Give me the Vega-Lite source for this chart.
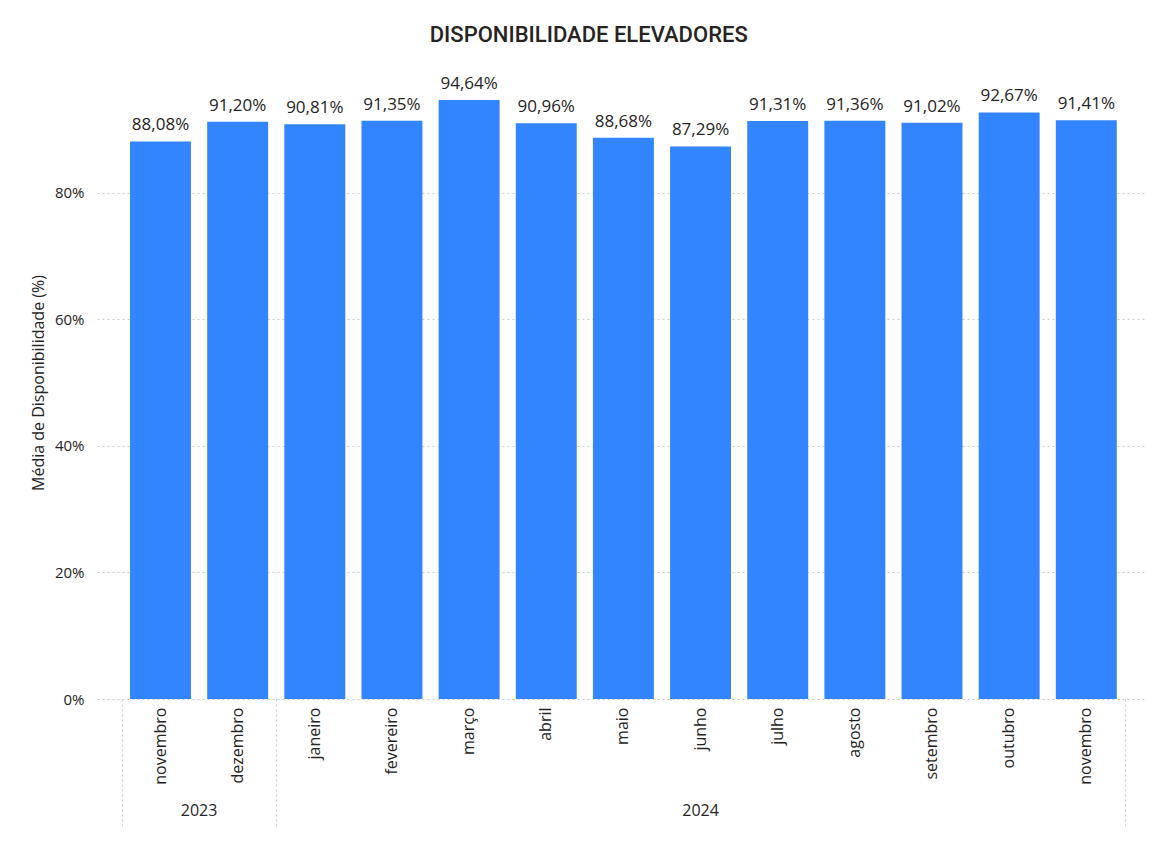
{
  "$schema": "https://vega.github.io/schema/vega-lite/v6.json",
  "width": 1050,
  "height": 633,
  "autosize": {"type": "none"},
  "padding": {"left": 97, "top": 66, "right": 12, "bottom": 151},
  "background": "white",
  "title": {
    "text": "DISPONIBILIDADE ELEVADORES",
    "anchor": "middle",
    "frame": "bounds",
    "font": "Roboto",
    "fontSize": 22,
    "fontWeight": 500,
    "color": "#252423",
    "baseline": "alphabetic",
    "offset": 2
  },
  "config": {
    "locale": {"number": {"decimal": ",", "thousands": ".", "grouping": [3], "currency": ["R$ ", ""]}},
    "view": {"stroke": null},
    "font": "Open Sans"
  },
  "data": {
    "values": [
      {"mes_ano": "novembro 2023", "disponibilidade": 0.8808},
      {"mes_ano": "dezembro 2023", "disponibilidade": 0.9120},
      {"mes_ano": "janeiro 2024", "disponibilidade": 0.9081},
      {"mes_ano": "fevereiro 2024", "disponibilidade": 0.9135},
      {"mes_ano": "março 2024", "disponibilidade": 0.9464},
      {"mes_ano": "abril 2024", "disponibilidade": 0.9096},
      {"mes_ano": "maio 2024", "disponibilidade": 0.8868},
      {"mes_ano": "junho 2024", "disponibilidade": 0.8729},
      {"mes_ano": "julho 2024", "disponibilidade": 0.9131},
      {"mes_ano": "agosto 2024", "disponibilidade": 0.9136},
      {"mes_ano": "setembro 2024", "disponibilidade": 0.9102},
      {"mes_ano": "outubro 2024", "disponibilidade": 0.9267},
      {"mes_ano": "novembro 2024", "disponibilidade": 0.9141}
    ]
  },
  "encoding": {
    "y": {
      "field": "disponibilidade",
      "type": "quantitative",
      "scale": {"domain": [0, 1], "nice": false},
      "axis": {
        "title": "Média de Disponibilidade (%)",
        "titleFont": "Open Sans",
        "titleFontSize": 16,
        "titleFontWeight": "normal",
        "titleColor": "#252423",
        "titlePadding": 8,
        "values": [0, 0.2, 0.4, 0.6, 0.8],
        "format": ".0%",
        "labelFont": "Open Sans",
        "labelFontSize": 15,
        "labelColor": "#252423",
        "labelPadding": 13,
        "ticks": false,
        "domain": false,
        "grid": true,
        "gridColor": "#cccccc",
        "gridDash": [2, 3],
        "gridWidth": 1
      }
    }
  },
  "layer": [
    {
      "mark": {"type": "bar", "color": "#3385FF", "width": {"band": 0.79}},
      "encoding": {
        "x": {
          "field": "mes_ano",
          "type": "ordinal",
          "sort": null,
          "scale": {"paddingInner": 0, "paddingOuter": 0.305, "align": 0.53},
          "axis": {
            "orient": "bottom",
            "title": null,
            "labelExpr": "split(datum.value, ' ')[0]",
            "labelAngle": -90,
            "labelFont": "Open Sans",
            "labelFontSize": 16,
            "labelColor": "#252423",
            "labelPadding": 8,
            "ticks": false,
            "domain": false,
            "grid": false
          }
        }
      }
    },
    {
      "mark": {"type": "text", "baseline": "alphabetic", "dy": -11, "fontSize": 17, "font": "Open Sans", "color": "#252423"},
      "encoding": {
        "x": {
          "field": "mes_ano",
          "type": "ordinal",
          "sort": null,
          "axis": {
            "orient": "bottom",
            "title": null,
            "values": ["novembro 2023", "junho 2024"],
            "labelExpr": "split(datum.value, ' ')[1]",
            "labelAngle": 0,
            "labelFont": "Open Sans",
            "labelFontSize": 16,
            "labelColor": "#252423",
            "labelPadding": 103,
            "labelOffset": {"condition": {"test": "datum.value == 'novembro 2023'", "value": 38.6}, "value": 0},
            "ticks": false,
            "domain": false,
            "grid": false
          }
        },
        "text": {"field": "disponibilidade", "type": "quantitative", "format": ".2%"}
      }
    },
    {
      "mark": {"type": "bar", "opacity": 0, "width": {"band": 0.79}},
      "encoding": {
        "x": {
          "field": "mes_ano",
          "type": "ordinal",
          "sort": null,
          "axis": {
            "orient": "bottom",
            "title": null,
            "values": ["novembro 2023", "dezembro 2023", "novembro 2024"],
            "labels": false,
            "domain": false,
            "grid": false,
            "ticks": true,
            "tickBand": "extent",
            "tickColor": "#cccccc",
            "tickDash": [2, 3],
            "tickWidth": 1,
            "tickSize": {"condition": {"test": "datum.value == 'novembro 2023'", "value": 0}, "value": 129}
          }
        }
      }
    }
  ],
  "resolve": {"axis": {"x": "independent"}}
}
